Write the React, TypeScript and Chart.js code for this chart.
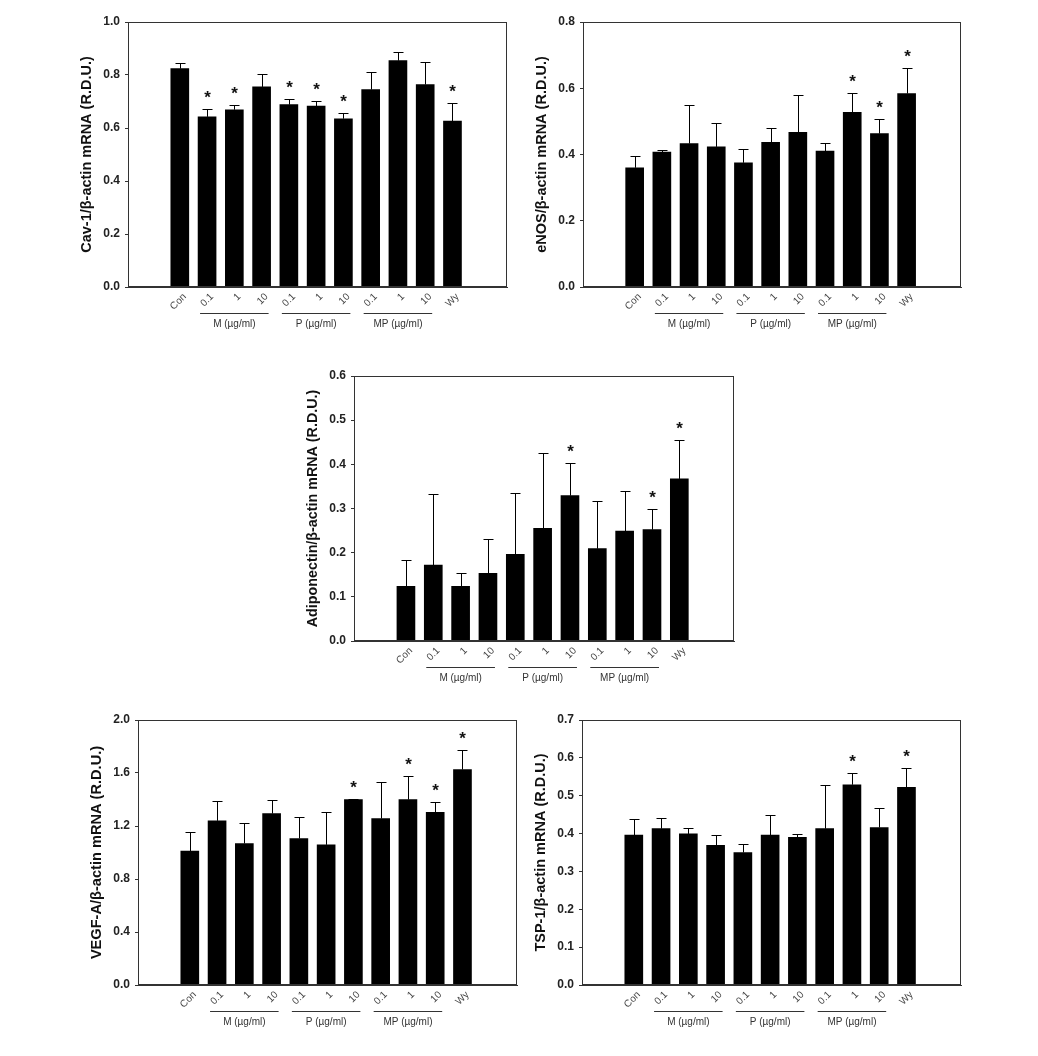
import React, { useEffect, useRef } from 'react';
import { Chart, registerables } from 'chart.js';

Chart.register(...registerables);

const FONT = "Arial, 'Liberation Sans', sans-serif";

const CATEGORIES = ['Con', '0.1', '1', '10', '0.1', '1', '10', '0.1', '1', '10', 'Wy'];
const GROUP_LABELS = ['M (µg/ml)', 'P (µg/ml)', 'MP (µg/ml)'];
const GROUP_FIRST = [1, 4, 7];
const GROUP_LAST = [3, 6, 9];

const CAV1_MEAN = [0.824, 0.642, 0.669, 0.755, 0.688, 0.683, 0.635, 0.745, 0.854, 0.764, 0.626];
const CAV1_SEM = [0.023, 0.031, 0.019, 0.05, 0.023, 0.019, 0.023, 0.066, 0.033, 0.085, 0.07];
const CAV1_SIG = [false, true, true, false, true, true, true, false, false, false, true];
const CAV1_TICKS = [0, 0.2, 0.4, 0.6, 0.8, 1.0];

const ENOS_MEAN = [0.36, 0.407, 0.433, 0.423, 0.375, 0.437, 0.467, 0.41, 0.527, 0.463, 0.584];
const ENOS_SEM = [0.034, 0.006, 0.117, 0.073, 0.042, 0.044, 0.113, 0.025, 0.06, 0.044, 0.078];
const ENOS_SIG = [false, false, false, false, false, false, false, false, true, true, true];
const ENOS_TICKS = [0, 0.2, 0.4, 0.6, 0.8];

const ADIPO_MEAN = [0.124, 0.172, 0.124, 0.153, 0.196, 0.255, 0.329, 0.209, 0.249, 0.252, 0.367];
const ADIPO_SEM = [0.059, 0.16, 0.031, 0.079, 0.138, 0.17, 0.073, 0.108, 0.091, 0.048, 0.089];
const ADIPO_SIG = [false, false, false, false, false, false, true, false, false, true, true];
const ADIPO_TICKS = [0, 0.1, 0.2, 0.3, 0.4, 0.5, 0.6];

const VEGF_MEAN = [1.01, 1.239, 1.068, 1.294, 1.106, 1.058, 1.399, 1.256, 1.399, 1.304, 1.626];
const VEGF_SEM = [0.148, 0.148, 0.156, 0.103, 0.165, 0.244, 0.006, 0.277, 0.176, 0.075, 0.148];
const VEGF_SIG = [false, false, false, false, false, false, true, false, true, true, true];
const VEGF_TICKS = [0, 0.4, 0.8, 1.2, 1.6, 2.0];

const TSP_MEAN = [0.396, 0.413, 0.399, 0.369, 0.35, 0.396, 0.39, 0.413, 0.529, 0.416, 0.522];
const TSP_SEM = [0.043, 0.029, 0.017, 0.026, 0.022, 0.053, 0.008, 0.115, 0.032, 0.052, 0.052];
const TSP_SIG = [false, false, false, false, false, false, false, false, true, false, true];
const TSP_TICKS = [0, 0.1, 0.2, 0.3, 0.4, 0.5, 0.6, 0.7];

type PanelCfg = {
  title: string;
  mean: number[];
  sem: number[];
  sig: boolean[];
  yTicks: number[];
  plot: [number, number, number, number];
  titleSize: number;
};

const PANELS: PanelCfg[] = [
  { title: 'Cav-1/β-actin mRNA (R.D.U.)', mean: CAV1_MEAN, sem: CAV1_SEM, sig: CAV1_SIG, yTicks: CAV1_TICKS, plot: [128, 22, 507, 287], titleSize: 14.5 },
  { title: 'eNOS/β-actin mRNA (R.D.U.)', mean: ENOS_MEAN, sem: ENOS_SEM, sig: ENOS_SIG, yTicks: ENOS_TICKS, plot: [583, 22, 961, 287], titleSize: 14.5 },
  { title: 'Adiponectin/β-actin mRNA (R.D.U.)', mean: ADIPO_MEAN, sem: ADIPO_SEM, sig: ADIPO_SIG, yTicks: ADIPO_TICKS, plot: [354, 376, 734, 641], titleSize: 14.3 },
  { title: 'VEGF-A/β-actin mRNA (R.D.U.)', mean: VEGF_MEAN, sem: VEGF_SEM, sig: VEGF_SIG, yTicks: VEGF_TICKS, plot: [138, 720, 517, 985], titleSize: 14.6 },
  { title: 'TSP-1/β-actin mRNA (R.D.U.)', mean: TSP_MEAN, sem: TSP_SEM, sig: TSP_SIG, yTicks: TSP_TICKS, plot: [582, 720, 961, 985], titleSize: 14.5 },
];

const PAD_L = 80;
const PAD_T = 14;
const PAD_R = 14;
const PAD_B = 60;

function makePlugin(cfg: PanelCfg) {
  return {
    id: 'panelExtras',
    afterDatasetsDraw(chart: any) {
      const { ctx, scales } = chart;
      const x = scales.x;
      const y = scales.y;
      ctx.save();
      ctx.strokeStyle = '#000';
      ctx.lineWidth = 1;
      cfg.mean.forEach((m, i) => {
        const px = Math.round(x.getPixelForValue(i)) + 0.5;
        const y0 = y.getPixelForValue(m);
        const y1 = Math.round(y.getPixelForValue(m + cfg.sem[i])) + 0.5;
        ctx.beginPath();
        ctx.moveTo(px, y0);
        ctx.lineTo(px, y1);
        ctx.moveTo(px - 5, y1);
        ctx.lineTo(px + 5, y1);
        ctx.stroke();
        if (cfg.sig[i]) {
          ctx.fillStyle = '#111';
          ctx.font = `bold 17px ${FONT}`;
          ctx.textAlign = 'center';
          ctx.textBaseline = 'alphabetic';
          ctx.fillText('*', px, y1 - 17 + 10);
        }
      });
      ctx.restore();
    },
    afterDraw(chart: any) {
      const { ctx, chartArea: a, scales } = chart;
      const x = scales.x;
      ctx.save();
      ctx.strokeStyle = '#333';
      ctx.lineWidth = 1;
      ctx.strokeRect(Math.round(a.left) + 0.5, Math.round(a.top) + 0.5, Math.round(a.right - a.left) - 1, Math.round(a.bottom - a.top) - 1);
      ctx.fillStyle = '#333';
      ctx.font = `10px ${FONT}`;
      ctx.textAlign = 'center';
      ctx.textBaseline = 'middle';
      GROUP_LABELS.forEach((lab, g) => {
        const x0 = x.getPixelForValue(GROUP_FIRST[g]) - 7;
        const x1 = x.getPixelForValue(GROUP_LAST[g]) + 7;
        const ly = Math.round(a.bottom + 26) + 0.5;
        ctx.beginPath();
        ctx.moveTo(x0, ly);
        ctx.lineTo(x1, ly);
        ctx.stroke();
        ctx.fillText(lab, (x0 + x1) / 2, a.bottom + 37);
      });
      ctx.translate(a.left - 41, (a.top + a.bottom) / 2);
      ctx.rotate(-Math.PI / 2);
      ctx.fillStyle = '#111';
      ctx.font = `bold ${cfg.titleSize}px ${FONT}`;
      ctx.fillText(cfg.title, 0, 0);
      ctx.restore();
    },
  };
}

function Panel({ cfg }: { cfg: PanelCfg }) {
  const ref = useRef<HTMLCanvasElement>(null);
  const [l, t, r, b] = cfg.plot;
  const w = r - l + PAD_L + PAD_R;
  const h = b - t + PAD_T + PAD_B;
  useEffect(() => {
    const yMax = cfg.yTicks[cfg.yTicks.length - 1];
    const chart = new Chart(ref.current as HTMLCanvasElement, {
      type: 'bar',
      data: {
        datasets: [
          {
            data: cfg.mean.map((v, i) => ({ x: i, y: v })) as any,
            backgroundColor: '#000',
            borderWidth: 0,
            barThickness: 18,
          },
        ],
      },
      options: {
        animation: false,
        responsive: false,
        devicePixelRatio: 1,
        layout: { padding: { top: PAD_T, right: PAD_R, left: 0, bottom: 0 } },
        plugins: { legend: { display: false }, tooltip: { enabled: false } },
        scales: {
          x: {
            type: 'linear',
            min: -1.9,
            max: 12.0,
            offset: false,
            grid: { display: false, drawTicks: false },
            border: { display: true, color: '#333', width: 1 },
            afterBuildTicks: (s: any) => {
              s.ticks = CATEGORIES.map((_, i) => ({ value: i }));
            },
            afterFit: (s: any) => {
              s.height = PAD_B;
            },
            ticks: {
              autoSkip: false,
              maxRotation: 45,
              minRotation: 45,
              padding: 4,
              labelOffset: 5,
              color: '#444',
              font: { family: FONT, size: 10 },
              callback: (v: any) => CATEGORIES[Math.round(Number(v))] ?? '',
            },
          },
          y: {
            type: 'linear',
            min: 0,
            max: yMax,
            grid: { display: true, drawOnChartArea: false, drawTicks: true, tickLength: 3, color: '#333' },
            border: { display: true, color: '#333', width: 1 },
            afterBuildTicks: (s: any) => {
              s.ticks = cfg.yTicks.map((v) => ({ value: v }));
            },
            afterFit: (s: any) => {
              s.width = PAD_L;
            },
            ticks: {
              padding: 5,
              color: '#222',
              font: { family: FONT, size: 12, weight: 'bold' },
              callback: (v: any) => Number(v).toFixed(1),
            },
          },
        },
      },
      plugins: [makePlugin(cfg) as any],
    });
    return () => chart.destroy();
  }, []);
  return (
    <canvas
      ref={ref}
      width={w}
      height={h}
      style={{ position: 'absolute', left: l - PAD_L, top: t - PAD_T, width: w, height: h }}
    />
  );
}

export default function App() {
  return (
    <div style={{ position: 'absolute', left: 0, top: 0, width: 1038, height: 1056, background: '#fff' }}>
      {PANELS.map((p, i) => (
        <Panel key={i} cfg={p} />
      ))}
    </div>
  );
}
